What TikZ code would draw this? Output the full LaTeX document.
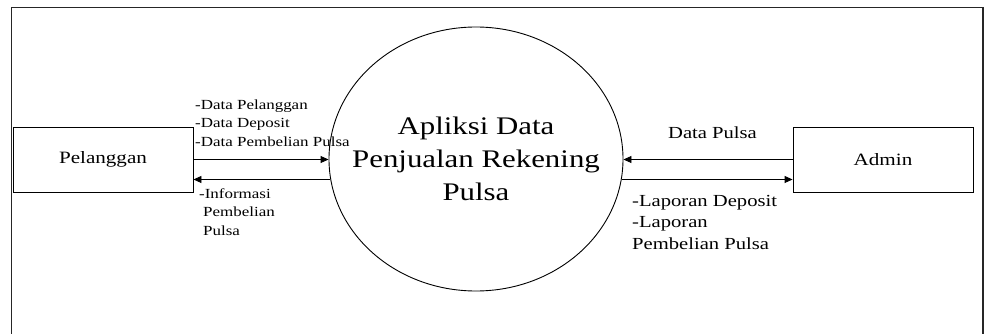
\documentclass[tikz,border=0pt]{standalone}
\usepackage{fontspec}
\setmainfont{Liberation Serif}[FakeStretch=1.22]
\usetikzlibrary{arrows.meta,shapes.geometric}
\tikzset{
  entity/.style={draw=black, line width=0.9pt, minimum width=180pt, minimum height=65pt,
    inner sep=0pt, font=\fontsize{17.3}{20}\selectfont},
  process/.style={draw=black, line width=0.9pt, ellipse, minimum width=294pt, minimum height=264pt,
    inner xsep=-60pt, inner ysep=0pt, align=center, font=\fontsize{25.3}{33}\selectfont},
  flow/.style={draw=black, line width=0.9pt, -{Triangle[length=8pt,width=7pt]}},
  smalllbl/.style={inner sep=0pt, align=left, anchor=west, font=\fontsize{13.9}{18.5}\selectfont},
  biglbl/.style={inner sep=0pt, align=left, anchor=west, font=\fontsize{16.9}{21.5}\selectfont},
  frame/.style={draw=black!85, line width=1.1pt}
}
\begin{document}
\begin{tikzpicture}[x=1pt,y=-1pt]
  \useasboundingbox (0,0) rectangle (991,334);
  % outer frame, open at the bottom
  \coordinate (fbl) at (11.5,334);
  \coordinate (ftl) at (11.5,7.5);
  \coordinate (ftr) at (983,7.5);
  \coordinate (fbr) at (983,334);
  \draw[frame] (fbl) -- (ftl) -- (ftr) -- (fbr);

  % external entities and the process
  \node[entity] (pel) at (103,159.5) {Pelanggan};
  \node[entity] (adm) at (883,159.5) {Admin};
  \node[process] (app) at (476,159) {Apliksi Data\\Penjualan Rekening\\Pulsa};

  % data flows
  \draw[flow] (pel.east) -- (pel.east -| app.west);
  \draw[flow] (app.188.6) -- (app.188.6 -| pel.east);
  \draw[flow] (adm.west) -- (adm.west -| app.east);
  \draw[flow] (app.-8.6) -- (app.-8.6 -| adm.west);

  % flow labels
  \node[smalllbl] (lin) at (195,123) {-Data Pelanggan\\-Data Deposit\\-Data Pembelian Pulsa};
  \node[smalllbl] (lout) at (199,212) {-Informasi\\\hspace{4pt}Pembelian\\\hspace{4pt}Pulsa};
  \node[biglbl, anchor=center] (rin) at (712.5,133) {Data Pulsa};
  \node[biglbl] (rout) at (632,222) {-Laporan Deposit\\-Laporan\\Pembelian Pulsa};
\end{tikzpicture}
\end{document}
